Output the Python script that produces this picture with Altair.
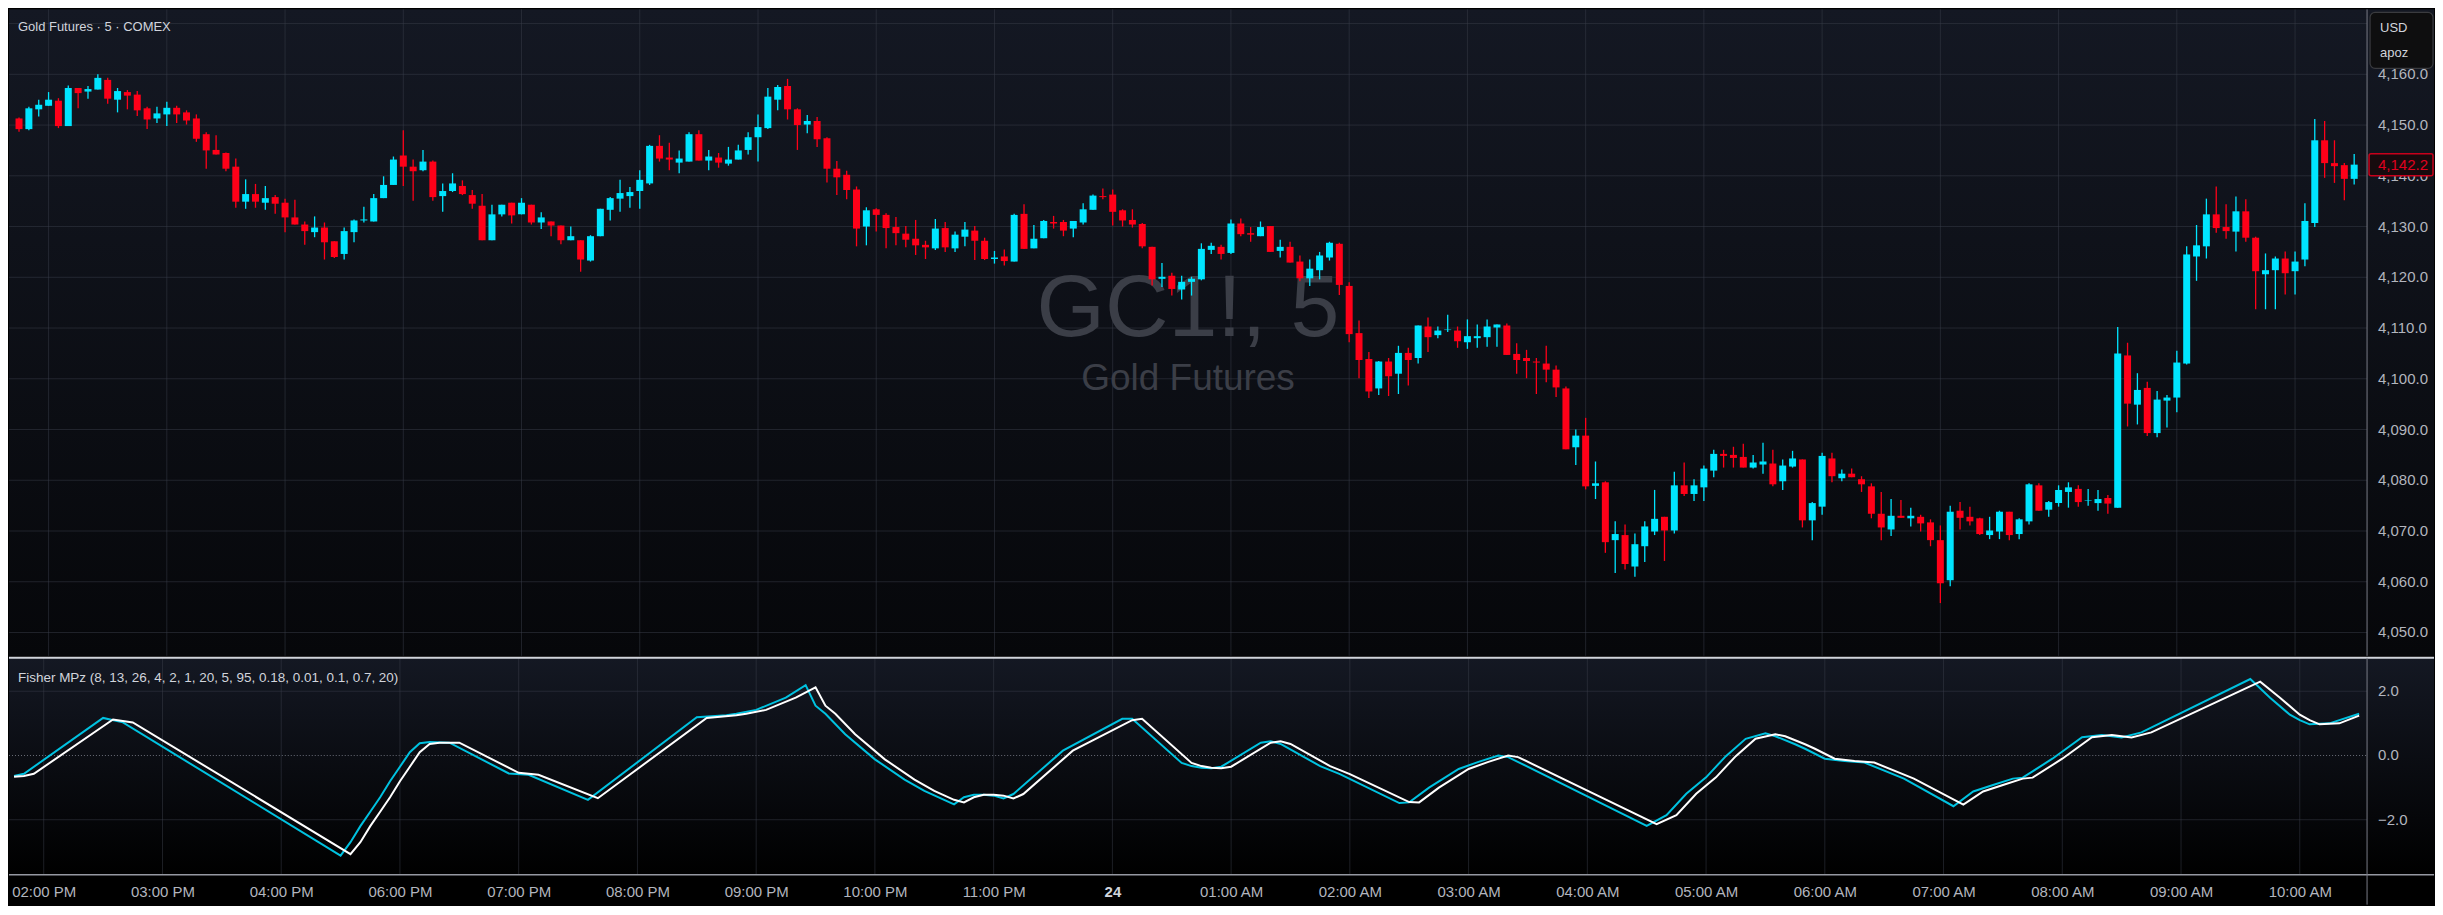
import json
import altair as alt
import pandas as pd

# ---------------- data ----------------
opens = [
    4151.3, 4149.2, 4153.1, 4153.8, 4154.8, 4149.8, 4157.3, 4156.6, 4157.0, 4158.9,
    4155.0, 4156.5, 4156.0, 4153.3, 4151.3, 4152.1, 4153.4, 4152.5, 4151.3, 4148.2,
    4145.1, 4144.5, 4141.8, 4134.9, 4136.4, 4134.7, 4135.8, 4134.7, 4131.8, 4130.4,
    4128.9, 4129.8, 4127.1, 4124.6, 4128.9, 4131.2, 4131.0, 4135.6, 4138.2, 4144.0,
    4141.8, 4141.1, 4142.8, 4136.0, 4137.0, 4138.0, 4136.2, 4134.1, 4127.3, 4132.4,
    4134.7, 4132.4, 4134.3, 4130.8, 4131.0, 4130.2, 4127.3, 4127.3, 4123.3, 4128.1,
    4133.3, 4135.5, 4136.0, 4137.0, 4138.5, 4145.9, 4143.6, 4142.6, 4142.8, 4148.2,
    4143.0, 4143.6, 4142.4, 4143.2, 4145.1, 4147.6, 4149.4, 4155.0, 4157.7, 4153.1,
    4150.1, 4150.8, 4147.4, 4141.4, 4140.2, 4137.3, 4130.0, 4133.4, 4132.3, 4129.9,
    4128.6, 4127.6, 4126.4, 4125.7, 4129.7, 4125.7, 4128.0, 4129.2, 4127.2, 4123.6,
    4124.1, 4123.1, 4132.5, 4125.7, 4127.7, 4130.9, 4130.9, 4129.6, 4130.8, 4133.3,
    4136.0, 4136.3, 4133.2, 4131.3, 4130.5, 4126.0, 4119.7, 4120.3, 4117.6, 4119.1,
    4119.6, 4125.4, 4126.0, 4124.8, 4130.6, 4128.7, 4128.1, 4130.1, 4125.2, 4126.0,
    4123.1, 4119.8, 4121.4, 4123.9, 4126.6, 4118.3, 4109.0, 4103.9, 4098.1, 4103.4,
    4101.0, 4105.1, 4104.1, 4110.3, 4108.6, 4109.6, 4109.5, 4107.2, 4108.0, 4108.2,
    4110.1, 4110.5, 4104.9, 4104.1, 4103.4, 4103.0, 4101.8, 4098.1, 4086.5, 4088.8,
    4078.9, 4079.6, 4068.2, 4069.2, 4063.0, 4067.0, 4069.9, 4072.8, 4070.1, 4079.0,
    4077.3, 4078.6, 4081.9, 4085.2, 4085.0, 4084.6, 4082.5, 4083.1, 4083.3, 4079.8,
    4082.7, 4084.1, 4072.1, 4074.8, 4084.3, 4080.4, 4081.3, 4080.2, 4078.8, 4073.4,
    4070.3, 4073.0, 4072.5, 4072.8, 4071.7, 4068.2, 4060.3, 4074.0, 4072.8, 4072.5,
    4069.2, 4069.9, 4073.8, 4069.4, 4071.9, 4079.0, 4074.2, 4075.5, 4077.7, 4078.3,
    4076.0, 4075.5, 4076.5, 4074.6, 4104.6, 4094.9, 4098.2, 4089.3, 4095.7, 4096.3,
    4103.0, 4124.1, 4126.1, 4132.4, 4129.9, 4129.0, 4133.0, 4127.8, 4120.6, 4121.4,
    4123.7, 4121.2, 4123.5, 4130.7, 4147.0, 4142.5, 4142.1, 4139.4,
]
highs = [
    4151.5, 4153.6, 4155.0, 4156.5, 4155.3, 4157.8, 4157.3, 4157.7, 4160.0, 4159.3,
    4157.3, 4156.9, 4156.7, 4153.6, 4153.6, 4154.6, 4153.8, 4152.9, 4152.1, 4148.6,
    4148.0, 4144.6, 4143.4, 4139.3, 4138.4, 4138.0, 4136.2, 4135.5, 4135.3, 4131.0,
    4132.0, 4130.8, 4127.1, 4129.8, 4131.4, 4133.9, 4136.4, 4139.9, 4143.8, 4149.0,
    4143.2, 4145.1, 4143.0, 4138.5, 4140.5, 4139.1, 4137.2, 4136.4, 4134.3, 4134.3,
    4134.7, 4135.6, 4134.3, 4132.8, 4131.0, 4130.2, 4130.0, 4127.3, 4128.3, 4133.5,
    4135.8, 4139.2, 4137.8, 4141.1, 4146.1, 4148.0, 4146.5, 4145.0, 4148.6, 4149.0,
    4145.1, 4144.5, 4145.7, 4146.1, 4148.6, 4152.1, 4157.3, 4157.9, 4159.1, 4153.3,
    4152.0, 4151.6, 4147.6, 4142.9, 4141.0, 4137.9, 4133.8, 4133.6, 4132.6, 4131.9,
    4130.1, 4131.3, 4127.2, 4131.5, 4130.9, 4129.0, 4130.9, 4130.1, 4127.8, 4125.2,
    4125.5, 4132.5, 4134.4, 4130.3, 4131.3, 4132.1, 4131.3, 4131.1, 4134.6, 4136.3,
    4137.5, 4137.3, 4133.4, 4133.4, 4130.7, 4126.0, 4122.8, 4120.9, 4120.3, 4120.1,
    4126.7, 4126.8, 4126.4, 4131.4, 4131.6, 4129.9, 4131.0, 4130.1, 4127.4, 4127.0,
    4124.3, 4123.5, 4125.0, 4127.0, 4126.8, 4119.0, 4111.5, 4105.3, 4103.5, 4104.1,
    4106.5, 4106.1, 4110.5, 4112.1, 4110.3, 4112.6, 4110.3, 4111.7, 4110.7, 4111.7,
    4110.7, 4110.9, 4107.0, 4105.7, 4104.1, 4106.5, 4102.6, 4098.5, 4090.0, 4092.3,
    4083.7, 4079.8, 4071.9, 4071.3, 4069.5, 4071.9, 4078.1, 4072.8, 4081.7, 4083.5,
    4080.2, 4082.9, 4086.0, 4086.0, 4086.6, 4087.2, 4085.0, 4087.4, 4086.0, 4084.1,
    4085.8, 4084.1, 4075.7, 4085.4, 4085.4, 4082.1, 4082.3, 4080.8, 4079.4, 4077.7,
    4076.3, 4076.1, 4074.6, 4073.2, 4072.3, 4071.1, 4075.0, 4075.7, 4074.8, 4072.6,
    4072.8, 4074.0, 4073.8, 4072.5, 4079.4, 4079.4, 4075.9, 4079.0, 4079.6, 4079.0,
    4078.3, 4078.1, 4077.1, 4110.2, 4107.1, 4101.1, 4099.4, 4097.6, 4096.8, 4105.5,
    4126.1, 4130.3, 4135.5, 4137.9, 4134.4, 4135.9, 4135.4, 4128.0, 4124.7, 4124.1,
    4125.1, 4125.1, 4134.6, 4151.2, 4150.8, 4147.0, 4142.5, 4144.3,
]
lows = [
    4148.7, 4149.0, 4151.7, 4153.8, 4149.4, 4149.8, 4153.3, 4155.2, 4157.0, 4154.2,
    4152.5, 4153.1, 4151.8, 4149.2, 4150.4, 4149.8, 4150.4, 4150.1, 4146.7, 4141.4,
    4144.2, 4140.9, 4133.7, 4133.5, 4133.7, 4133.3, 4132.5, 4128.9, 4130.4, 4126.4,
    4127.9, 4123.5, 4123.8, 4123.5, 4126.9, 4130.8, 4131.0, 4135.6, 4138.2, 4138.0,
    4135.1, 4140.9, 4135.1, 4132.9, 4136.8, 4136.2, 4133.5, 4127.3, 4127.3, 4132.0,
    4130.6, 4132.4, 4130.4, 4129.5, 4128.1, 4126.5, 4127.3, 4121.1, 4123.1, 4128.1,
    4131.2, 4132.9, 4133.7, 4133.5, 4138.2, 4142.8, 4141.1, 4140.5, 4142.8, 4143.0,
    4141.1, 4141.6, 4142.0, 4143.2, 4144.2, 4142.8, 4149.2, 4152.9, 4151.1, 4145.1,
    4148.4, 4145.7, 4138.7, 4136.2, 4135.4, 4126.1, 4126.3, 4129.0, 4125.7, 4126.3,
    4125.9, 4124.4, 4123.6, 4125.4, 4125.0, 4125.0, 4126.1, 4123.4, 4123.4, 4122.7,
    4122.3, 4123.1, 4125.6, 4125.7, 4127.7, 4129.6, 4128.1, 4127.9, 4130.4, 4133.3,
    4135.4, 4130.2, 4130.0, 4129.8, 4125.7, 4118.4, 4118.1, 4116.4, 4115.6, 4116.4,
    4119.4, 4124.6, 4123.5, 4124.6, 4128.1, 4127.0, 4128.1, 4125.0, 4123.9, 4122.9,
    4119.2, 4118.3, 4119.6, 4123.3, 4116.5, 4107.2, 4100.1, 4096.2, 4096.8, 4096.6,
    4097.0, 4098.7, 4103.0, 4105.3, 4108.0, 4109.2, 4106.1, 4105.9, 4106.1, 4106.3,
    4106.3, 4104.7, 4101.0, 4100.1, 4097.0, 4099.3, 4096.4, 4086.1, 4083.0, 4078.2,
    4076.3, 4065.7, 4061.7, 4062.4, 4061.0, 4063.9, 4069.2, 4064.1, 4069.5, 4076.9,
    4075.9, 4075.9, 4080.6, 4082.5, 4082.5, 4082.5, 4082.3, 4081.3, 4078.8, 4078.1,
    4082.5, 4070.7, 4068.2, 4073.2, 4079.6, 4079.8, 4080.6, 4077.7, 4072.5, 4068.2,
    4069.0, 4072.6, 4070.9, 4069.9, 4067.0, 4055.8, 4059.1, 4070.3, 4071.1, 4069.2,
    4068.4, 4068.4, 4068.2, 4068.4, 4071.3, 4074.0, 4072.8, 4074.8, 4074.6, 4074.8,
    4075.0, 4074.0, 4073.4, 4074.6, 4090.6, 4091.0, 4088.7, 4088.5, 4090.4, 4093.4,
    4102.8, 4119.3, 4123.7, 4128.8, 4127.6, 4125.1, 4127.0, 4113.7, 4113.7, 4113.7,
    4116.6, 4116.6, 4122.2, 4129.9, 4139.6, 4138.6, 4135.2, 4138.3,
]
closes = [
    4149.2, 4153.3, 4154.0, 4155.0, 4149.8, 4157.3, 4156.3, 4157.1, 4159.3, 4155.2,
    4156.7, 4155.8, 4152.9, 4151.1, 4152.3, 4153.4, 4152.1, 4150.9, 4147.3, 4145.0,
    4144.2, 4141.4, 4134.9, 4136.4, 4134.9, 4135.6, 4134.5, 4131.8, 4130.4, 4129.1,
    4129.8, 4126.9, 4124.0, 4129.1, 4131.2, 4131.4, 4135.6, 4138.2, 4143.2, 4141.8,
    4140.9, 4142.8, 4135.8, 4137.0, 4138.5, 4136.4, 4134.5, 4127.3, 4132.4, 4134.3,
    4132.2, 4134.7, 4130.8, 4131.8, 4130.2, 4127.3, 4128.1, 4123.5, 4128.1, 4133.5,
    4135.6, 4136.6, 4136.8, 4139.2, 4145.9, 4143.4, 4143.2, 4143.4, 4148.2, 4143.0,
    4143.8, 4142.6, 4143.2, 4145.0, 4147.6, 4149.6, 4155.6, 4157.5, 4153.1, 4150.0,
    4150.8, 4147.2, 4141.4, 4139.7, 4137.2, 4129.6, 4133.2, 4132.3, 4129.7, 4128.7,
    4127.4, 4126.3, 4125.9, 4129.6, 4125.9, 4128.4, 4129.4, 4127.2, 4123.6, 4123.9,
    4123.2, 4132.3, 4125.6, 4127.6, 4131.1, 4130.6, 4129.2, 4131.1, 4133.4, 4136.1,
    4135.8, 4132.9, 4131.2, 4130.4, 4126.1, 4119.6, 4120.1, 4117.7, 4119.1, 4119.7,
    4125.6, 4126.2, 4124.6, 4130.6, 4128.5, 4128.4, 4129.9, 4125.0, 4126.0, 4122.9,
    4119.8, 4121.7, 4124.3, 4126.8, 4118.5, 4108.8, 4103.7, 4097.5, 4103.4, 4100.5,
    4105.1, 4103.7, 4110.5, 4108.2, 4109.5, 4109.7, 4107.4, 4108.4, 4108.4, 4110.3,
    4110.7, 4104.7, 4103.7, 4103.5, 4103.2, 4101.8, 4098.3, 4086.1, 4088.8, 4078.8,
    4079.4, 4067.8, 4069.4, 4063.5, 4067.4, 4070.9, 4072.4, 4070.1, 4079.0, 4077.3,
    4079.0, 4082.3, 4085.2, 4084.8, 4084.4, 4082.5, 4083.5, 4083.7, 4079.2, 4082.9,
    4084.3, 4072.1, 4075.5, 4084.8, 4080.8, 4081.3, 4080.6, 4079.2, 4073.4, 4070.7,
    4073.0, 4072.6, 4073.0, 4071.5, 4068.2, 4059.7, 4073.8, 4072.6, 4071.9, 4069.4,
    4070.1, 4073.8, 4069.2, 4072.3, 4079.2, 4074.0, 4075.7, 4078.1, 4078.6, 4075.7,
    4076.1, 4076.3, 4075.4, 4105.0, 4095.1, 4097.8, 4089.3, 4095.9, 4096.3, 4103.2,
    4124.5, 4126.3, 4132.4, 4129.7, 4129.1, 4133.0, 4127.8, 4121.2, 4121.4, 4123.7,
    4120.8, 4123.1, 4131.1, 4147.0, 4142.5, 4141.9, 4139.4, 4142.2,
]

# hour ticks: position (bar number) and label
tick_bars = [3, 15, 27, 39, 51, 63, 75, 87, 99, 111, 123, 135, 147, 159, 171,
             183, 195, 207, 219, 231]
tick_labels = ["02:00 PM", "03:00 PM", "04:00 PM", "06:00 PM", "07:00 PM",
               "08:00 PM", "09:00 PM", "10:00 PM", "11:00 PM", "24",
               "01:00 AM", "02:00 AM", "03:00 AM", "04:00 AM", "05:00 AM",
               "06:00 AM", "07:00 AM", "08:00 AM", "09:00 AM", "10:00 AM"]
price_grid = [4050, 4060, 4070, 4080, 4090, 4100, 4110, 4120, 4130, 4140,
              4150, 4160, 4170]
price_labels = [4050, 4060, 4070, 4080, 4090, 4100, 4110, 4120, 4130, 4140,
                4150, 4160]
fisher_ticks = [-2.0, 0.0, 2.0]

# Fisher (cyan) line, read at its turning points
fisher_bars = [0, 1, 9, 11, 33, 34, 35, 36, 37, 38, 39, 40, 41, 42, 44, 50, 52, 58,
               69, 72, 73, 75, 78, 80, 81, 82, 84, 87, 90, 92, 94, 95, 96, 97, 98,
               99, 100, 101, 106, 112, 113, 118, 119, 120, 121, 122, 126, 127, 128,
               132, 134, 140, 141, 143, 146, 148, 150, 151, 165, 167, 169, 171, 173,
               175, 177, 178, 180, 181, 183, 185, 187, 191, 196, 198, 200, 202, 203,
               206, 209, 211, 213, 215, 226, 228, 230, 231, 232, 234, 237]
fisher_vals = [-0.64, -0.57, 1.17, 1.03, -3.12, -2.70, -2.20, -1.75, -1.30, -0.80,
               -0.35, 0.10, 0.38, 0.42, 0.40, -0.56, -0.60, -1.38, 1.19, 1.25, 1.30,
               1.42, 1.80, 2.19, 1.55, 1.30, 0.66, -0.12, -0.75, -1.10, -1.38, -1.52,
               -1.30, -1.22, -1.22, -1.25, -1.34, -1.20, 0.15, 1.14, 1.14, -0.23,
               -0.33, -0.38, -0.40, -0.35, 0.40, 0.44, 0.36, -0.33, -0.58, -1.48,
               -1.46, -1.00, -0.42, -0.20, 0.00, -0.05, -2.19, -1.86, -1.19, -0.68,
               -0.02, 0.52, 0.69, 0.60, 0.35, 0.21, -0.10, -0.17, -0.22, -0.72, -1.58,
               -1.12, -0.92, -0.72, -0.69, -0.10, 0.57, 0.64, 0.56, 0.72, 2.38, 1.80,
               1.27, 1.10, 0.97, 1.00, 1.30]
# trigger (white) line
trigger_bars = [0, 1, 2, 10, 12, 34, 35, 36, 37, 38, 39, 40, 41, 42, 43, 45, 51, 53,
                59, 70, 73, 74, 76, 79, 81, 82, 83, 85, 88, 91, 93, 95, 96, 97, 98,
                99, 100, 101, 102, 107, 113, 114, 119, 120, 121, 122, 123, 127, 128,
                129, 133, 135, 141, 142, 144, 147, 149, 151, 152, 166, 168, 170, 172,
                174, 176, 178, 179, 181, 182, 184, 186, 188, 192, 197, 199, 201, 203,
                204, 207, 210, 212, 214, 216, 227, 229, 231, 232, 233, 235, 237]
trigger_vals = [-0.66, -0.64, -0.57, 1.12, 1.03, -3.07, -2.70, -2.20, -1.75, -1.30,
                -0.80, -0.35, 0.10, 0.36, 0.40, 0.40, -0.54, -0.60, -1.33, 1.17, 1.25,
                1.30, 1.42, 1.80, 2.12, 1.55, 1.30, 0.66, -0.12, -0.75, -1.10, -1.38,
                -1.46, -1.30, -1.22, -1.22, -1.25, -1.34, -1.20, 0.15, 1.10, 1.14,
                -0.23, -0.33, -0.38, -0.40, -0.35, 0.40, 0.44, 0.36, -0.33, -0.58,
                -1.45, -1.46, -1.00, -0.42, -0.20, 0.00, -0.05, -2.14, -1.86, -1.19,
                -0.68, -0.02, 0.52, 0.66, 0.60, 0.35, 0.21, -0.10, -0.17, -0.22, -0.72,
                -1.53, -1.12, -0.92, -0.72, -0.69, -0.10, 0.57, 0.64, 0.56, 0.72, 2.30,
                1.80, 1.27, 1.10, 0.97, 1.00, 1.24]

title_text = "Gold Futures · 5 · COMEX"
indicator_text = "Fisher MPz (8, 13, 26, 4, 2, 1, 20, 5, 95, 0.18, 0.01, 0.1, 0.7, 20)"
watermark_big = "GC1!, 5"
watermark_small = "Gold Futures"
box_lines = ["USD", "apoz"]

# ---------------- styling ----------------
W, R = 2360, 67          # plot width, right price-scale width
H1, H2 = 647, 217        # price pane, indicator pane
FONT = "Liberation Sans"
UP, DN = "#00e5ff", "#ff0018"
GRID = "#3a3e4a"
TXT = "#d1d4dc"
AXT = "#b2b5be"
SEP = "#787b86"

xs = alt.Scale(domain=[-0.51, 237.8], nice=False, zero=False)
ys = alt.Scale(domain=[4045.4, 4172.8], nice=False, zero=False)
fs = alt.Scale(domain=[-3.71, 3.04], nice=False, zero=False)

one = pd.DataFrame({"k": [0]})


def grad(top, bottom):
    return alt.LinearGradient(
        gradient="linear",
        stops=[alt.GradientStop(color=top, offset=0),
               alt.GradientStop(color=bottom, offset=1)],
        x1=0, x2=0, y1=0, y2=1)


bars = pd.DataFrame({"bar": list(range(len(opens))), "open": opens,
                     "high": highs, "low": lows, "close": closes})

XP = alt.X("bar:Q", scale=xs, axis=None)
candle_color = alt.condition("datum.close >= datum.open", alt.value(UP), alt.value(DN))

# ---- price pane ----
bg1 = alt.Chart(one).mark_rect(fill=grad("#141823", "#06070a")).encode(
    x=alt.value(0), x2=alt.value(W + R), y=alt.value(0), y2=alt.value(H1))

hgrid = alt.Chart(pd.DataFrame({"p": price_grid})).mark_rule(
    color=GRID, opacity=0.5, strokeWidth=1).encode(
    y=alt.Y("p:Q", scale=ys, axis=None), x=alt.value(0), x2=alt.value(W))

vgrid = alt.Chart(pd.DataFrame({"bar": tick_bars})).mark_rule(
    color=GRID, opacity=0.5, strokeWidth=1).encode(
    x=XP, y=alt.value(0), y2=alt.value(H1))

wm1 = alt.Chart(pd.DataFrame({"t": [watermark_big]})).mark_text(
    font=FONT, fontSize=88, color="#3b3e47", align="center",
    baseline="alphabetic").encode(x=alt.value(W / 2), y=alt.value(327), text="t:N")
wm2 = alt.Chart(pd.DataFrame({"t": [watermark_small]})).mark_text(
    font=FONT, fontSize=37, color="#3b3e47", align="center",
    baseline="alphabetic").encode(x=alt.value(W / 2), y=alt.value(381), text="t:N")

wick = alt.Chart(bars).mark_rule(strokeWidth=1.3).encode(
    x=XP, y=alt.Y("low:Q", scale=ys, axis=None), y2="high:Q", color=candle_color)
body = alt.Chart(bars).mark_bar(size=7).encode(
    x=XP, y=alt.Y("open:Q", scale=ys, axis=None), y2="close:Q", color=candle_color)

vsep1 = alt.Chart(one).mark_rule(color=SEP, strokeWidth=1).encode(
    x=alt.value(W), y=alt.value(0), y2=alt.value(H1))

plabels = alt.Chart(pd.DataFrame({"p": price_labels})).mark_text(
    font=FONT, fontSize=15, color=AXT, align="left", baseline="middle").encode(
    x=alt.value(W + 11), y=alt.Y("p:Q", scale=ys, axis=None),
    text=alt.Text("p:Q", format=",.1f"))

usd_box = alt.Chart(one).mark_rect(fill="#0e0e0f", stroke="#3a3b3f", strokeWidth=1.2,
                                   cornerRadius=5).encode(
    x=alt.value(W + 3), x2=alt.value(W + 66), y=alt.value(3), y2=alt.value(59))
usd_t1 = alt.Chart(pd.DataFrame({"t": [box_lines[0]]})).mark_text(
    font=FONT, fontSize=13, color=TXT, align="left", baseline="middle").encode(
    x=alt.value(W + 13), y=alt.value(19), text="t:N")
usd_t2 = alt.Chart(pd.DataFrame({"t": [box_lines[1]]})).mark_text(
    font=FONT, fontSize=13, color=TXT, align="left", baseline="middle").encode(
    x=alt.value(W + 13), y=alt.value(44), text="t:N")

last = pd.DataFrame({"c": [closes[-1]]})
last_box = alt.Chart(last).mark_rect(fill="#170b0e", stroke="#c8001b", strokeWidth=1.5,
                                     cornerRadius=2, yOffset=-11, y2Offset=11).encode(
    x=alt.value(W + 2), x2=alt.value(W + 66),
    y=alt.Y("c:Q", scale=ys, axis=None), y2=alt.Y2("c"))
last_txt = alt.Chart(last).mark_text(font=FONT, fontSize=15, color="#e0001e",
                                     align="left", baseline="middle").encode(
    x=alt.value(W + 11), y=alt.Y("c:Q", scale=ys, axis=None),
    text=alt.Text("c:Q", format=",.1f"))

title = alt.Chart(pd.DataFrame({"t": [title_text]})).mark_text(
    font=FONT, fontSize=13, color=TXT, align="left", baseline="middle").encode(
    x=alt.value(9), y=alt.value(18), text="t:N")

price = alt.layer(bg1, hgrid, vgrid, wm1, wm2, wick, body, vsep1, plabels,
                  usd_box, usd_t1, usd_t2, last_box, last_txt, title).properties(
    width=W, height=H1)

# ---- Fisher pane ----
label_expr = "%s[indexof(%s, datum.value)]" % (json.dumps(tick_labels), json.dumps(tick_bars))
bold_bar = tick_bars[tick_labels.index("24")]
xaxis = alt.Axis(values=tick_bars, labelExpr=label_expr, grid=False, ticks=False,
                 domain=False, title=None, labelFont=FONT, labelFontSize=15,
                 labelColor={"condition": {"test": "datum.value == %d" % bold_bar,
                                           "value": TXT}, "value": AXT},
                 labelFontWeight={"condition": {"test": "datum.value == %d" % bold_bar,
                                                "value": "bold"}, "value": "normal"},
                 labelPadding=10, labelBaseline="top", labelOverlap=False,
                 labelFlush=False)
XF = alt.X("bar:Q", scale=xs, axis=xaxis)

bg2 = alt.Chart(one).mark_rect(fill=grad("#141823", "#000000")).encode(
    x=alt.value(0), x2=alt.value(W + R), y=alt.value(0), y2=alt.value(H2))

fgrid = alt.Chart(pd.DataFrame({"v": [fisher_ticks[0], fisher_ticks[2]]})).mark_rule(
    color=GRID, opacity=0.5, strokeWidth=1).encode(
    y=alt.Y("v:Q", scale=fs, axis=None), x=alt.value(0), x2=alt.value(W))
fzero = alt.Chart(pd.DataFrame({"v": [fisher_ticks[1]]})).mark_rule(
    color="#6a6d78", strokeWidth=1, strokeDash=[1, 2]).encode(
    y=alt.Y("v:Q", scale=fs, axis=None), x=alt.value(0), x2=alt.value(W))
fvgrid = alt.Chart(pd.DataFrame({"bar": tick_bars})).mark_rule(
    color=GRID, opacity=0.5, strokeWidth=1).encode(
    x=XF, y=alt.value(0), y2=alt.value(H2))

fish_line = alt.Chart(pd.DataFrame({"bar": fisher_bars, "v": fisher_vals})).mark_line(
    color="#00c2e0", strokeWidth=2).encode(
    x=XF, y=alt.Y("v:Q", scale=fs, axis=None))
trig_line = alt.Chart(pd.DataFrame({"bar": trigger_bars, "v": trigger_vals})).mark_line(
    color="#ffffff", strokeWidth=2).encode(
    x=XF, y=alt.Y("v:Q", scale=fs, axis=None))

ind_label = alt.Chart(pd.DataFrame({"t": [indicator_text]})).mark_text(
    font=FONT, fontSize=13.5, color=TXT, align="left", baseline="middle").encode(
    x=alt.value(9), y=alt.value(20), text="t:N")

flabels = alt.Chart(pd.DataFrame({"v": fisher_ticks})).mark_text(
    font=FONT, fontSize=15, color=AXT, align="left", baseline="middle").encode(
    x=alt.value(W + 11), y=alt.Y("v:Q", scale=fs, axis=None),
    text=alt.Text("v:Q", format=".1f"))

top_sep = alt.Chart(one).mark_rule(color="#d1d4dc", strokeWidth=2).encode(
    x=alt.value(0), x2=alt.value(W + R), y=alt.value(0))
bot_sep = alt.Chart(one).mark_rule(color="#9598a1", strokeWidth=1.5).encode(
    x=alt.value(0), x2=alt.value(W + R), y=alt.value(H2))
vsep2 = alt.Chart(one).mark_rule(color=SEP, strokeWidth=1).encode(
    x=alt.value(W), y=alt.value(0), y2=alt.value(H2 + 30))

fisher = alt.layer(bg2, fgrid, fzero, fvgrid, fish_line, trig_line, ind_label,
                   flabels, top_sep, bot_sep, vsep2).properties(width=W, height=H2)

chart = alt.vconcat(price, fisher, spacing=0).properties(
    background="#000000", padding=0).configure_view(strokeWidth=0)

chart.save("out.html", embed_options={"renderer": "svg", "actions": False})
